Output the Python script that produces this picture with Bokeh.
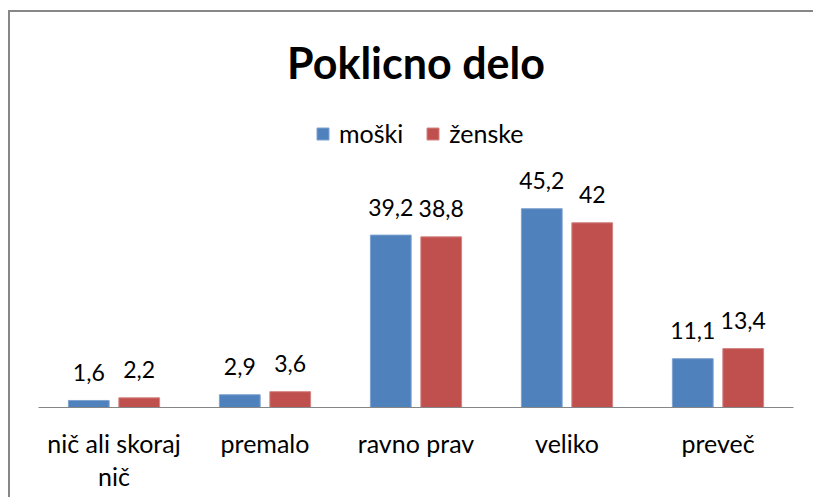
from bokeh.plotting import figure
from bokeh.models import ColumnDataSource, FactorRange, Range1d, Legend, LegendItem
from bokeh.transform import dodge
from bokeh.core.properties import value
from bokeh.embed import file_html
from bokeh.resources import INLINE

# ---- data ----
categories = ["nič ali skoraj\nnič", "premalo", "ravno prav", "veliko", "preveč"]
moski = [1.6, 2.9, 39.2, 45.2, 11.1]
zenske = [2.2, 3.6, 38.8, 42.0, 13.4]
series_names = ["moški", "ženske"]
title_text = "Poklicno delo"


def fmt(v):
    return f"{v:g}".replace(".", ",")


source = ColumnDataSource(dict(
    cat=categories,
    moski=moski,
    zenske=zenske,
    ml=[fmt(v) for v in moski],
    zl=[fmt(v) for v in zenske],
))

FONT = "Lato"
BLUE = "#4F81BD"
RED = "#C0504D"

p = figure(
    x_range=FactorRange(*categories, range_padding=0, factor_padding=0),
    y_range=Range1d(0, 69.8),
    width=806, height=487,
    output_backend="svg", toolbar_location=None,
    min_border_left=28, min_border_right=23,
    min_border_bottom=92, min_border_top=88,
)
# chart-area border: left and top edges only (right/bottom run off the page)
p.styles = {"margin-left": "10px", "margin-top": "12px",
            "box-shadow": "-2px -2px 0px 0px #878787"}

p.title.text = title_text
p.title.align = "center"
p.title.text_font = FONT
p.title.text_font_size = "43px"
p.title.text_font_style = "bold"
p.title.text_color = "black"
p.title.standoff = 26

p.outline_line_color = None
p.xgrid.grid_line_color = None
p.ygrid.grid_line_color = None
p.yaxis.visible = False
p.xaxis.axis_line_color = "#868686"
p.xaxis.major_tick_line_color = None
p.xaxis.minor_tick_line_color = None
p.xaxis.major_label_text_font = FONT
p.xaxis.major_label_text_font_size = "25px"
p.xaxis.major_label_text_line_height = 1.1
p.xaxis.major_label_text_color = "black"
p.xaxis.major_label_standoff = 14

off = 0.167
bw = 0.27
r1 = p.vbar(x=dodge("cat", -off, range=p.x_range), top="moski", width=bw, source=source,
            fill_color=BLUE, line_color="#7FA3D0", line_width=1)
r2 = p.vbar(x=dodge("cat", off, range=p.x_range), top="zenske", width=bw, source=source,
            fill_color=RED, line_color="#D38583", line_width=1)

p.text(x=dodge("cat", -off, range=p.x_range), y="moski", text="ml", source=source,
       y_offset=-28, text_align="center", text_baseline="alphabetic",
       text_font=value(FONT), text_font_size="23px", text_color="black")
p.text(x=dodge("cat", off, range=p.x_range), y="zenske", text="zl", source=source,
       y_offset=-28, text_align="center", text_baseline="alphabetic",
       text_font=value(FONT), text_font_size="23px", text_color="black")

legend = Legend(
    items=[LegendItem(label=series_names[0], renderers=[r1]),
           LegendItem(label=series_names[1], renderers=[r2])],
    location=(277, 259), orientation="horizontal",
    border_line_color=None, background_fill_alpha=0,
    label_text_font=FONT, label_text_font_size="25px", label_text_color="black",
    glyph_width=15, glyph_height=15, label_standoff=9, spacing=22,
    padding=0, margin=0,
)
p.add_layout(legend)

open("out.html", "w").write(file_html(p, INLINE))
